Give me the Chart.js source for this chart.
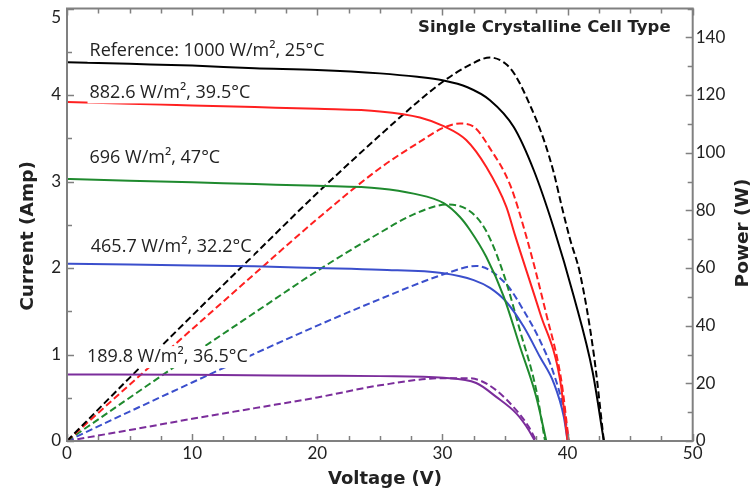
<!DOCTYPE html>
<html>
<head>
<meta charset="utf-8">
<script src="https://cdn.jsdelivr.net/npm/chart.js@4"></script>
<style>
html,body{margin:0;padding:0;background:#fff;}
#wrap{width:754px;height:488px;position:relative;}
</style>
</head>
<body>
<div id="wrap"><canvas id="c" width="754" height="488"></canvas></div>
<script>
// ---- Data ----
const seriesLabels = ["Reference: 1000 W/m\u00B2, 25\u00B0C", "882.6 W/m\u00B2, 39.5\u00B0C", "696 W/m\u00B2, 47\u00B0C", "465.7 W/m\u00B2, 32.2\u00B0C", "189.8 W/m\u00B2, 36.5\u00B0C"];

// Current (A) vs voltage (V)
const ivVoltage1000 = [0, 5, 10, 15, 20, 25, 28, 30, 32, 33.8, 35.7, 37.3, 38.9, 40.5, 42, 42.9];
const ivCurrent1000 = [4.38, 4.36, 4.34, 4.31, 4.29, 4.25, 4.21, 4.17, 4.09, 3.94, 3.63, 3.13, 2.46, 1.67, 0.8, 0];
const ivVoltage883 = [0, 5, 10, 15, 20, 25, 28.2, 30.1, 31.9, 33.5, 35.1, 35.8, 37.8, 39.4, 40.0];
const ivCurrent883 = [3.92, 3.9, 3.88, 3.86, 3.84, 3.81, 3.74, 3.64, 3.48, 3.17, 2.71, 2.38, 1.48, 0.71, 0];
const ivVoltage696 = [0, 5, 10, 15, 20, 25, 27.7, 30.1, 31.4, 32.2, 33.5, 34.9, 36.2, 37.5, 38.3];
const ivCurrent696 = [3.03, 3.01, 2.99, 2.97, 2.95, 2.92, 2.86, 2.75, 2.59, 2.44, 2.13, 1.67, 1.09, 0.51, 0];
const ivVoltage466 = [0, 5, 10, 15, 20, 25, 30.1, 32.5, 33.8, 35.1, 36.5, 37.8, 38.9, 39.7, 40.0];
const ivCurrent466 = [2.05, 2.04, 2.03, 2.02, 2.0, 1.98, 1.94, 1.86, 1.77, 1.61, 1.32, 0.97, 0.67, 0.28, 0];
const ivVoltage190 = [0, 10, 20, 25, 30.1, 32.7, 34.3, 35.9, 36.7, 37.4];
const ivCurrent190 = [0.77, 0.765, 0.755, 0.75, 0.73, 0.67, 0.51, 0.32, 0.17, 0];

// Power (W) vs voltage (V)
const pvVoltage1000 = [0, 5, 10, 15, 20, 25, 28, 30, 32, 33.8, 35, 35.8, 37.1, 38.1, 38.9, 39.5, 40.2, 41, 42.1, 42.9];
const pvPower1000 = [0, 21.9, 43.5, 64.8, 86, 106, 117.5, 124.5, 130, 133, 131, 127, 115.5, 104.5, 93, 82, 70, 58, 30, 0];
const pvVoltage883 = [0, 5, 10, 15, 20, 25, 28.2, 30, 31.4, 32.5, 33.8, 35.4, 36.7, 38.3, 39.5, 40.1];
const pvPower883 = [0, 19.5, 38.8, 58, 77, 94.6, 103.8, 108.5, 110.1, 109, 101.5, 88.9, 71, 44, 21, 0];
const pvVoltage696 = [0, 5, 10, 15, 20, 25, 27.7, 30.4, 32.2, 33.5, 34.9, 36.2, 37.5, 38.2];
const pvPower696 = [0, 15, 29.9, 44.5, 59, 72.2, 78.6, 82, 79.7, 72.8, 57.8, 38.3, 17.6, 0];
const pvVoltage466 = [0, 5, 10, 15, 20, 25, 30.1, 32.7, 35.1, 36.5, 37.8, 38.9, 39.7, 40.1];
const pvPower466 = [0, 10.2, 20.3, 30.3, 40, 49.2, 57.8, 60.7, 54.4, 45.2, 34.8, 23.3, 10.7, 0];
const pvVoltage190 = [0, 5, 10, 15, 20, 25, 30.1, 32, 33, 34.3, 35.9, 36.9, 37.5];
const pvPower190 = [0, 3.8, 7.7, 11.4, 15.1, 19.3, 21.8, 21.8, 21, 17.6, 10.7, 4.9, 0];

// Axis ticks
const voltageTicks = [0, 10, 20, 30, 40, 50];
const currentTicks = [0, 1, 2, 3, 4, 5];
const powerTicks = [0, 20, 40, 60, 80, 100, 120, 140];

// Label anchor (in data units: voltage, current)
const labelAnchorV = [1.8, 1.8, 1.8, 1.9, 1.6];
const labelAnchorI = [4.51, 4.03, 3.27, 2.24, 0.97];

const colors = ["#000000", "#ff2020", "#1f8a2e", "#3b4fcc", "#7b2d9b"];

// ---- Build datasets ----
const ivSets = [[ivVoltage1000, ivCurrent1000],[ivVoltage883, ivCurrent883],[ivVoltage696, ivCurrent696],[ivVoltage466, ivCurrent466],[ivVoltage190, ivCurrent190]];
const pvSets = [[pvVoltage1000, pvPower1000],[pvVoltage883, pvPower883],[pvVoltage696, pvPower696],[pvVoltage466, pvPower466],[pvVoltage190, pvPower190]];
const toXY = (xs, ys) => xs.map((x, i) => ({x: x, y: ys[i]}));

const datasets = [];
ivSets.forEach((s, i) => datasets.push({
  label: seriesLabels[i] + " current", data: toXY(s[0], s[1]), yAxisID: 'y',
  borderColor: colors[i], borderWidth: 2, pointRadius: 0, fill: false,
  cubicInterpolationMode: 'monotone'
}));
pvSets.forEach((s, i) => datasets.push({
  label: seriesLabels[i] + " power", data: toXY(s[0], s[1]), yAxisID: 'y1',
  borderColor: colors[i], borderWidth: 2, borderDash: [7, 3.5], pointRadius: 0, fill: false,
  cubicInterpolationMode: 'monotone'
}));

const FONT = "Lato, 'Open Sans', sans-serif";
const WIDE = "'Open Sans', Lato, sans-serif";
const BOLD = "'DejaVu Sans', 'Open Sans', sans-serif";
const axisGray = "#808080";

const decorPlugin = {
  id: 'decor',
  afterDatasetsDraw(chart) {
    const ctx = chart.ctx, a = chart.chartArea;
    const sx = chart.scales.x, sy = chart.scales.y, sy1 = chart.scales.y1;
    ctx.save();
    // series labels with white backgrounds
    ctx.font = "18px " + WIDE;
    ctx.textBaseline = 'middle';
    ctx.textAlign = 'left';
    seriesLabels.forEach((t, i) => {
      const px = sx.getPixelForValue(labelAnchorV[i]);
      const py = sy.getPixelForValue(labelAnchorI[i]);
      const w = ctx.measureText(t).width;
      ctx.fillStyle = '#fff';
      ctx.fillRect(px - 2, py - 11, w + 4, 22);
      ctx.fillStyle = '#222';
      ctx.fillText(t, px, py);
    });
    // title
    ctx.font = "bold 16.5px " + BOLD;
    ctx.fillStyle = '#222';
    ctx.fillText("Single Crystalline Cell Type", 418, 28);

    // top current label drawn slightly lowered (as in reference)
    ctx.font = "17px " + FONT;
    ctx.textAlign = 'right';
    ctx.fillText(String(currentTicks[currentTicks.length - 1]), a.left - 6, sy.getPixelForValue(currentTicks[currentTicks.length - 1]) + 9);

    // frame
    ctx.strokeStyle = axisGray;
    ctx.lineWidth = 2;
    ctx.strokeRect(a.left, a.top, a.right - a.left, a.bottom - a.top);
    ctx.lineWidth = 1.5;
    ctx.beginPath();
    for (let v = 0; v <= 50.001; v += 2.5) {
      const px = Math.round(sx.getPixelForValue(v)) + 0.5;
      const len = (Math.abs(v % 10) < 1e-6) ? 7 : 5;
      ctx.moveTo(px, a.bottom); ctx.lineTo(px, a.bottom - len);
      ctx.moveTo(px, a.top); ctx.lineTo(px, a.top + len);
    }
    for (let v = 0; v <= 5.001; v += 0.5) {
      const py = Math.round(sy.getPixelForValue(v)) + 0.5;
      const len = (Math.abs(v % 1) < 1e-6) ? 7 : 5;
      ctx.moveTo(a.left, py); ctx.lineTo(a.left + len, py);
    }
    for (let v = 0; v <= 150.001; v += 10) {
      const py = Math.round(sy1.getPixelForValue(v)) + 0.5;
      const len = (Math.abs(v % 20) < 1e-6) ? 7 : 5;
      ctx.moveTo(a.right, py); ctx.lineTo(a.right - len, py);
    }
    ctx.stroke();

    // axis titles
    ctx.fillStyle = '#222';
    ctx.font = "bold 18.5px " + BOLD;
    ctx.textAlign = 'center';
    ctx.save();
    ctx.translate(28, 236); ctx.rotate(-Math.PI / 2);
    ctx.fillText("Current (Amp)", 0, 0);
    ctx.restore();
    ctx.save();
    ctx.translate(743, 233); ctx.rotate(-Math.PI / 2);
    ctx.fillText("Power (W)", 0, 0);
    ctx.restore();
    ctx.font = "bold 18px " + BOLD;
    ctx.fillText("Voltage (V)", 385, 479);
    ctx.restore();
  }
};

new Chart(document.getElementById('c'), {
  type: 'line',
  data: { datasets: datasets },
  options: {
    responsive: false,
    animation: false,
    events: [],
    layout: { padding: { top: 8.5, left: 0, right: 0, bottom: 0 } },
    plugins: { legend: { display: false }, tooltip: { enabled: false } },
    scales: {
      x: {
        type: 'linear', min: 0, max: 50,
        grid: { display: false, drawTicks: false }, border: { display: false },
        afterBuildTicks: s => { s.ticks = voltageTicks.map(v => ({value: v})); },
        ticks: { color: '#222', font: { family: FONT, size: 17 }, padding: 2, maxRotation: 0 },
        afterFit: s => { s.height = 47; s.paddingLeft = 0; s.paddingRight = 0; }
      },
      y: {
        type: 'linear', position: 'left', min: 0, max: 5,
        grid: { display: false, drawTicks: false }, border: { display: false },
        afterBuildTicks: s => { s.ticks = currentTicks.map(v => ({value: v})); },
        ticks: { color: '#222', font: { family: FONT, size: 17 }, padding: 6,
                 callback: v => (v === currentTicks[currentTicks.length - 1] ? '' : String(v)) },
        afterFit: s => { s.width = 67; s.paddingTop = 0; s.paddingBottom = 0; }
      },
      y1: {
        type: 'linear', position: 'right', min: 0, max: 150,
        grid: { display: false, drawTicks: false }, border: { display: false },
        afterBuildTicks: s => { s.ticks = powerTicks.map(v => ({value: v})); },
        ticks: { color: '#222', font: { family: FONT, size: 17 }, padding: 3 },
        afterFit: s => { s.width = 61.3; s.paddingTop = 0; s.paddingBottom = 0; }
      }
    }
  },
  plugins: [decorPlugin]
});
</script>
</body>
</html>
